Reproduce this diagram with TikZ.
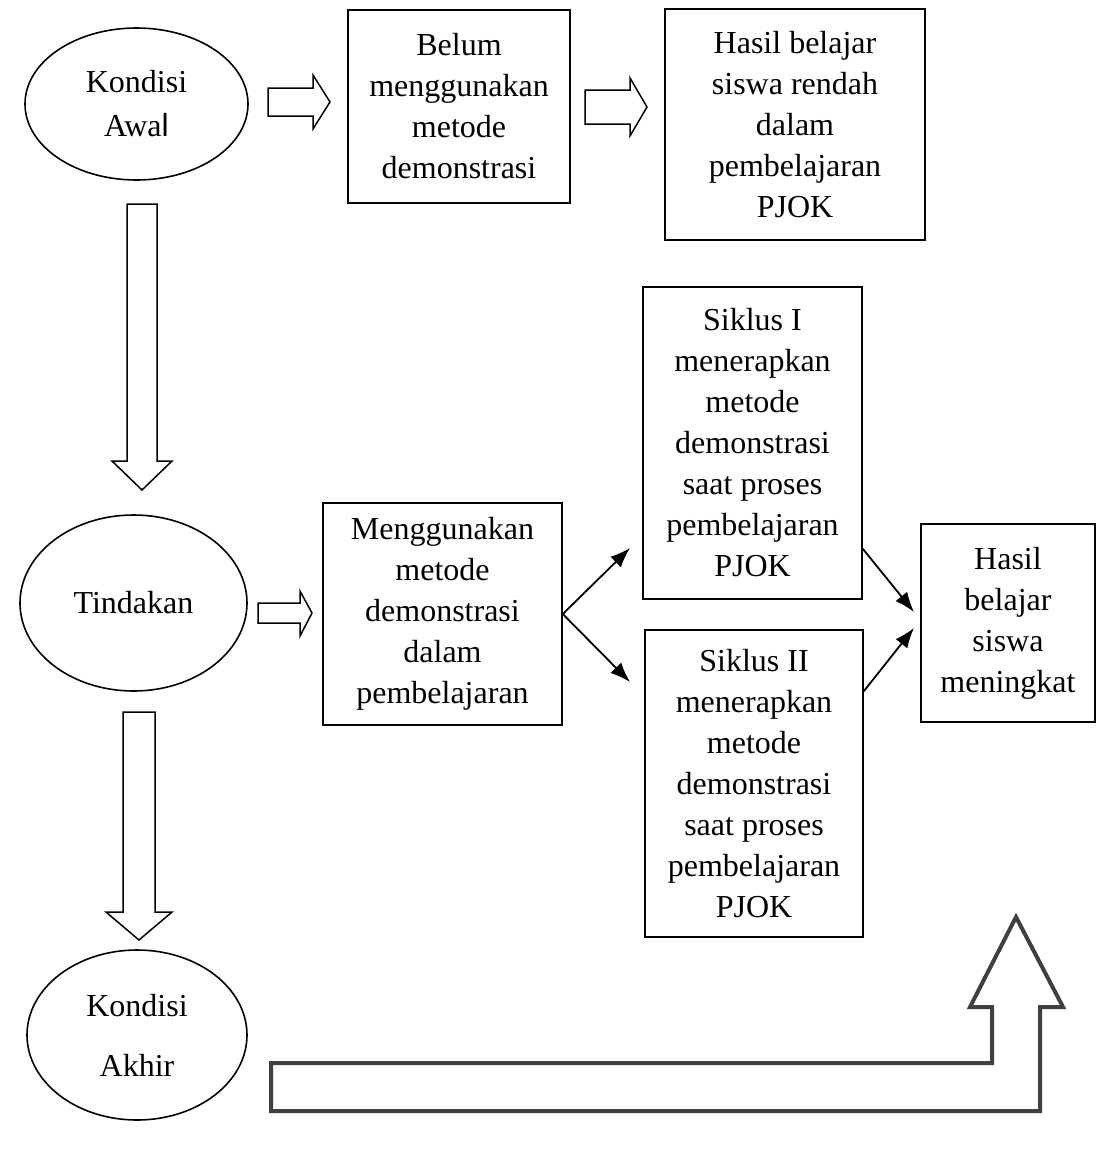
\documentclass[tikz,border=0pt]{standalone}
\usepackage{fontspec}
\setmainfont{Liberation Serif}
\newfontfamily\armfont{Liberation Sans}
\usetikzlibrary{shapes.geometric,arrows.meta}
\definecolor{arrowgray}{HTML}{404040}

\tikzset{
  kotak/.style={draw, line width=0.8pt, inner sep=0pt, align=center, font=\fontsize{16}{20.5}\selectfont},
  kondisi/.style={draw, ellipse, line width=0.8pt, inner sep=0pt, align=center, font=\fontsize{16}{22}\selectfont},
  panah/.style={draw, line width=0.75pt, line join=miter},
  panahbesar/.style={draw=arrowgray, line width=2pt, line join=miter},
  link/.style={line width=0.9pt, -{Latex[length=10pt,width=7.5pt]}},
}

\begin{document}
\begin{tikzpicture}[x=0.5pt, y=-0.5pt]
\useasboundingbox (0,0) rectangle (1097,1151);

% kondisi (elips)
\node[kondisi, minimum width=111.5pt, minimum height=76pt] (awal) at (136.5,104) {Kondisi\\Awa{\armfont l}};
\node[kondisi, minimum width=113.5pt, minimum height=88pt] (tindakan) at (133.5,603) {Tindakan};
\node[kondisi, minimum width=110pt, minimum height=85pt, font=\fontsize{16}{30}\selectfont] (akhir) at (137,1035) {Kondisi\\Akhir};

% kotak
\node[kotak, minimum width=111pt, minimum height=96.5pt] (belum) at (459,106.5) {Belum\\menggunakan\\metode\\demonstrasi};
\node[kotak, minimum width=130pt, minimum height=115.5pt] (rendah) at (795,124.5) {Hasil belajar\\siswa rendah\\dalam\\pembelajaran\\PJOK};
\node[kotak, minimum width=119.5pt, minimum height=111pt] (pakai) at (442.5,614) {Menggunakan\\metode\\demonstrasi\\dalam\\pembelajaran};
\node[kotak, minimum width=109.5pt, minimum height=156pt] (siklusI) at (752.5,443) {Siklus I\\menerapkan\\metode\\demonstrasi\\saat proses\\pembelajaran\\PJOK};
\node[kotak, minimum width=109pt, minimum height=153.5pt] (siklusII) at (754,783.5) {Siklus II\\menerapkan\\metode\\demonstrasi\\saat proses\\pembelajaran\\PJOK};
\node[kotak, minimum width=87pt, minimum height=99pt] (naik) at (1008,623) {Hasil\\belajar\\siswa\\meningkat};

% panah blok
\draw[panah] (268,88) -- (313,88) -- (313,75) -- (330,102) -- (313,129) -- (313,116) -- (268,116) -- cycle;
\draw[panah] (585,90) -- (630,90) -- (630,78) -- (647,107) -- (630,136) -- (630,124) -- (585,124) -- cycle;
\draw[panah] (258,603) -- (300,603) -- (300,591) -- (312,613) -- (300,636) -- (300,623) -- (258,623) -- cycle;
\draw[panah] (127,204) -- (157,204) -- (157,461) -- (172,461) -- (142,490) -- (112,461) -- (127,461) -- cycle;
\draw[panah] (123,712) -- (155,712) -- (155,912) -- (172,912) -- (139,940) -- (106,912) -- (123,912) -- cycle;

% panah besar
\draw[panahbesar] (271,1063) -- (992,1063) -- (992,1007) -- (970,1007) -- (1016,917) -- (1063,1007) -- (1040,1007) -- (1040,1111) -- (271,1111) -- cycle;

% siklus
\coordinate (up1) at (630,548);
\coordinate (dn1) at (630,682);
\coordinate (in1) at (914,612);
\coordinate (in2) at (914,628);
\draw[link] (pakai.east) -- (up1);
\draw[link] (pakai.east) -- (dn1);
\draw[link] ([yshift=25.5pt]siklusI.south east) -- (in1);
\draw[link] ([yshift=-31pt]siklusII.north east) -- (in2);
\end{tikzpicture}
\end{document}
